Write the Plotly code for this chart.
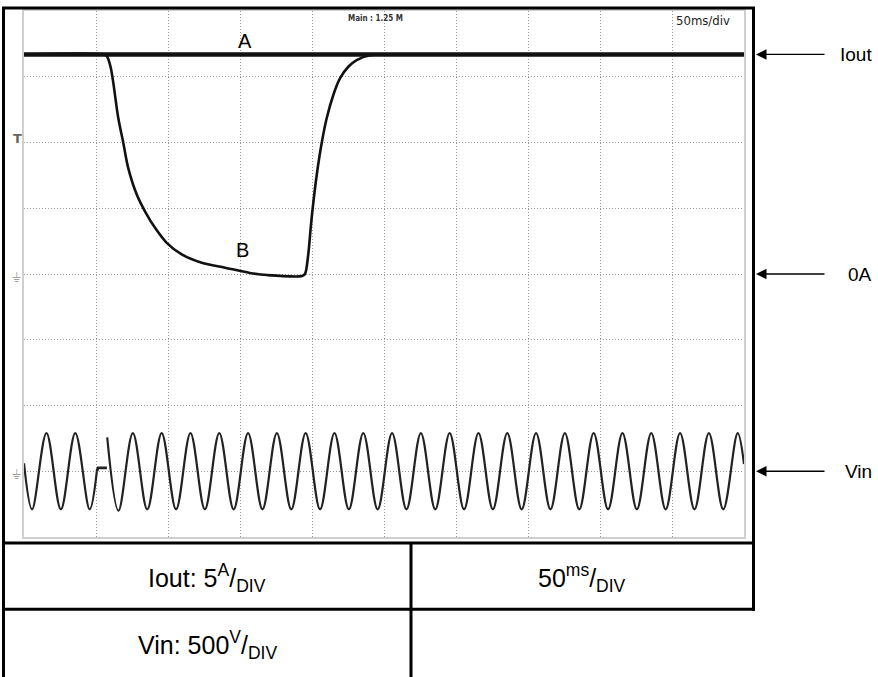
import plotly.graph_objects as go

# ---- Oscilloscope capture: output current and input voltage during a mains dropout ----
# time axis: 50 ms/div, 10 divisions
X_RANGE_MS = [0, 500]
# Iout axis: 5 A/div, 8 divisions, 0 A at screen centre
IOUT_RANGE_A = [-20, 20]
# Vin axis: 500 V/div, 0 V three divisions below centre
VIN_RANGE_V = [-500, 3500]

# trace A: output current that stays at its set level
time_a_ms = [0, 500]
iout_a = [16.7, 16.7]

# trace B: output current that collapses during the dropout and recovers
time_b_ms = [0, 55.6, 57.3, 60.1, 65.5, 69.0, 72.4, 78.3, 84.0, 91.0, 99.1,
             109.5, 123.4, 139.6, 156.9, 168.8, 193.1, 195.1, 197.4, 199.1, 200.5,
             203.3, 206.7, 210.2, 214.8, 219.4, 225.2, 231.0, 240.3, 254.2, 500]
iout_b = [16.7, 16.7, 16.6, 15.76, 11.84, 9.95, 8.05, 6.04, 4.77, 3.51, 2.37,
          1.49, 0.86, 0.48, 0.08, -0.08, -0.15, 0.0, 1.49, 3.51, 5.02,
          7.55, 9.95, 11.84, 13.61, 14.87, 15.76, 16.27, 16.64, 16.7, 16.7]

# Vin before the dropout (turning points of the 50 Hz wave)
vin1_t_ms = [0, 5.6, 15.6, 25.6, 35.6, 45.6, 50.6]
vin1_v = [60, -290, 290, -290, 290, -290, 0]

# Vin during the dropout
vin_gap_t_ms = [50.6, 51.4, 57.6]
vin_gap_v = [0, 25, 25]

# Vin after the mains returns
vin2_t_ms = [57.8, 65.6, 75.6, 85.6, 95.6, 105.6, 115.6, 125.6, 135.6, 145.6, 155.6,
             165.6, 175.6, 185.6, 195.6, 205.6, 215.6, 225.6, 235.6, 245.6, 255.6,
             265.6, 275.6, 285.6, 295.6, 305.6, 315.6, 325.6, 335.6, 345.6, 355.6,
             365.6, 375.6, 385.6, 395.6, 405.6, 415.6, 425.6, 435.6, 445.6, 455.6,
             465.6, 475.6, 485.6, 495.6, 500]
vin2_v = [258, -300, 290, -290, 290, -290, 290, -290, 290, -290, 290,
          -290, 290, -290, 290, -290, 290, -290, 290, -290, 290,
          -290, 290, -290, 290, -290, 290, -290, 290, -290, 290,
          -290, 290, -290, 290, -290, 290, -290, 290, -290, 290,
          -290, 290, -290, 290, 55]

W, H = 878, 677
PL, PR, PT, PB = 24, 744, 9, 537   # screen area in pixels


def px(x):
    return (x - PL) / (PR - PL)


def py(y):
    return (PB - y) / (PB - PT)


INK = "#111111"
fig = go.Figure()

fig.add_trace(go.Scatter(x=time_b_ms, y=iout_b, mode="lines",
                         line=dict(color=INK, width=2.6, shape="spline", smoothing=0.9),
                         hoverinfo="skip"))
fig.add_trace(go.Scatter(x=time_a_ms, y=iout_a, mode="lines",
                         line=dict(color=INK, width=4.5), hoverinfo="skip"))
for t, v in [(vin1_t_ms, vin1_v), (vin2_t_ms, vin2_v)]:
    fig.add_trace(go.Scatter(x=t, y=v, mode="lines", yaxis="y2",
                             line=dict(color="#222222", width=2.2, shape="spline", smoothing=1),
                             hoverinfo="skip"))
fig.add_trace(go.Scatter(x=vin_gap_t_ms, y=vin_gap_v, mode="lines", yaxis="y2",
                         line=dict(color="#222222", width=2.8), hoverinfo="skip"))

grid = dict(showgrid=True, gridcolor="#9a9a9a", griddash="1px,2px", gridwidth=1,
            showticklabels=False, ticks="", zeroline=False,
            showline=True, linecolor="#cfcfcf", linewidth=2, mirror=True)
fig.update_layout(
    width=W, height=H,
    margin=dict(l=PL, r=W - PR, t=PT, b=H - PB),
    paper_bgcolor="white", plot_bgcolor="white",
    showlegend=False,
    xaxis=dict(range=X_RANGE_MS, dtick=50, **grid),
    yaxis=dict(range=IOUT_RANGE_A, dtick=5, **grid),
    yaxis2=dict(range=VIN_RANGE_V, overlaying="y", showgrid=False, showticklabels=False,
                zeroline=False, ticks=""),
)

# frame and table rules
BLK = dict(color="black", width=3)
for x0, y0, x1, y1 in [(3.5, 5, 3.5, 680), (2, 6, 755, 6), (753.5, 5, 753.5, 611),
                       (2, 543, 755, 543), (2, 609.5, 755, 609.5), (411, 543, 411, 680)]:
    fig.add_shape(type="line", xref="paper", yref="paper",
                  x0=px(x0), y0=py(y0), x1=px(x1), y1=py(y1), line=BLK)

SANS = "Liberation Sans, Arial, sans-serif"


def label(x, y, text, size, color="black", family=SANS, xanchor="center"):
    fig.add_annotation(xref="paper", yref="paper", x=px(x), y=py(y), text=text,
                       showarrow=False, xanchor=xanchor, yanchor="middle",
                       font=dict(family=family, size=size, color=color))


# trace labels
label(245, 39, "A", 20)
label(243, 249, "B", 20)

# scope readouts
label(375, 17, "<b>Main : 1.25 M</b>", 8, color="#333333", family="DejaVu Sans Condensed, DejaVu Sans")
label(703, 19, "50ms/div", 13, color="#222222",
      family="Liberation Sans Narrow, DejaVu Sans Condensed, sans-serif")

# channel markers on the left edge
label(17, 137, "<b>T</b>", 13, color="#666666", family="DejaVu Sans")
label(16, 277, "⏚", 13, color="#a0a0a0", family="DejaVu Sans")
label(16, 474, "⏚", 13, color="#a0a0a0", family="DejaVu Sans")

# table contents
label(207, 578, "Iout: 5<sup>A</sup>/<sub>DIV</sub>", 25)
label(582, 578, "50<sup>ms</sup>/<sub>DIV</sub>", 25)
label(207, 645, "Vin: 500<sup>V</sup>/<sub>DIV</sub>", 25)

# pointers on the right side
for yv, yref, text in [(iout_a[0], "y", "Iout"), (0, "y", "0A"), (0, "y2", "Vin")]:
    fig.add_annotation(xref="paper", yref=yref, x=px(756), y=yv, text="",
                       showarrow=True, ax=70, ay=0, arrowhead=2, arrowsize=1.5,
                       arrowwidth=1.4, arrowcolor="black", standoff=0)
    fig.add_annotation(xref="paper", yref=yref, x=px(874), y=yv, text=text,
                       showarrow=False, xanchor="right", yanchor="middle",
                       font=dict(family=SANS, size=19, color="black"))

fig.write_html("out.html")
